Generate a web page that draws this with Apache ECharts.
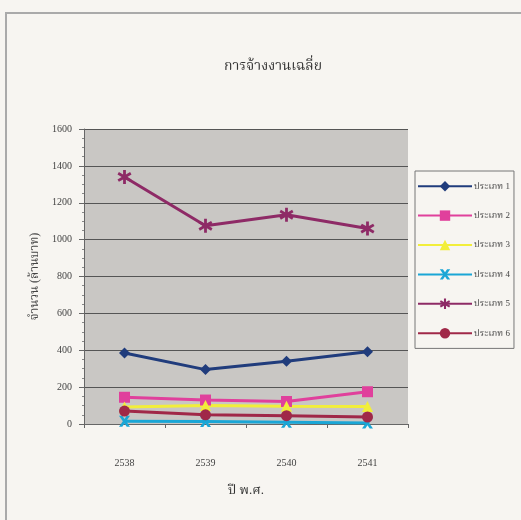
<!DOCTYPE html>
<html>
<head>
<meta charset="utf-8">
<script src="https://cdn.jsdelivr.net/npm/echarts@6/dist/echarts.min.js"></script>
<style>
  html, body { margin: 0; padding: 0; background: #f7f5f1; }
  #chart { width: 521px; height: 520px; }
</style>
</head>
<body>
<div id="chart"></div>
<script>
// ข้อมูลการจ้างงานเฉลี่ย
const years = ['2538', '2539', '2540', '2541'];
const seriesNames = ['ประเภท 1', 'ประเภท 2', 'ประเภท 3', 'ประเภท 4', 'ประเภท 5', 'ประเภท 6'];
const type1 = [385, 295, 340, 392];
const type2 = [145, 130, 122, 175];
const type3 = [92, 100, 96, 95];
const type4 = [15, 14, 10, 5];
const type5 = [1340, 1075, 1135, 1060];
const type6 = [70, 50, 45, 38];

const colors = ['#203c7c', '#e0409c', '#f2ee3a', '#1aa6d6', '#8e2a66', '#a02848'];
const symbols = [
    'diamond',
    'rect',
    'triangle',
    'path://M0,0 L3,0 L5,3 L7,0 L10,0 L6.5,5 L10,10 L7,10 L5,7 L3,10 L0,10 L3.5,5 Z',
    'path://M4,0 L6,0 L6,3.2 L9,1.5 L10,3.2 L7,5 L10,6.8 L9,8.5 L6,6.8 L6,10 L4,10 L4,6.8 L1,8.5 L0,6.8 L3,5 L0,3.2 L1,1.5 L4,3.2 Z',
    'circle'
];
const values = [type1, type2, type3, type4, type5, type6];

const font = '"Liberation Serif", "Noto Serif Thai", "Noto Sans Thai", serif';

const chart = echarts.init(document.getElementById('chart'));

const option = {
    backgroundColor: '#f7f5f1',
    animation: false,
    title: {
        text: 'การจ้างงานเฉลี่ย',
        left: 268,
        textAlign: 'center',
        top: 54,
        textStyle: { fontFamily: font, fontSize: 14, fontWeight: 'normal', color: '#333' }
    },
    graphic: [{
        type: 'rect',
        shape: { x: 6, y: 13, width: 560, height: 560 },
        style: { fill: 'none', stroke: '#aaa', lineWidth: 2 },
        silent: true
    }],
    legend: {
        orient: 'vertical',
        left: 415,
        top: 171,
        width: 103,
        itemWidth: 54,
        itemHeight: 13,
        itemGap: 19,
        padding: [10, 4, 10, 2],
        borderColor: '#777',
        borderWidth: 1,
        backgroundColor: '#f7f5f1',
        data: seriesNames,
        textStyle: { fontFamily: font, fontSize: 9, color: '#444', padding: [0, 0, 0, -3] }
    },
    grid: { left: 84, right: 113, top: 129, bottom: 96 },
    xAxis: {
        type: 'category',
        data: years,
        name: 'ปี พ.ศ.',
        nameLocation: 'middle',
        nameGap: 60,
        nameTextStyle: { fontFamily: font, fontSize: 13, color: '#333' },
        axisLine: { lineStyle: { color: '#666' } },
        axisTick: { show: true, interval: 0, length: 4, lineStyle: { color: '#666' } },
        axisLabel: { fontFamily: font, fontSize: 10, color: '#444', margin: 34 }
    },
    yAxis: {
        type: 'value',
        min: 0,
        max: 1600,
        interval: 200,
        name: 'จำนวน (ล้านบาท)',
        nameLocation: 'middle',
        nameGap: 40,
        nameTextStyle: { fontFamily: font, fontSize: 12, color: '#444' },
        axisLine: { show: true, lineStyle: { color: '#666' } },
        axisTick: { show: true, length: 5, lineStyle: { color: '#666' } },
        minorTick: { show: true, splitNumber: 4, length: 2, lineStyle: { color: '#888' } },
        axisLabel: { fontFamily: font, fontSize: 10, color: '#444', margin: 12, formatter: v => String(v) },
        splitLine: { show: true, lineStyle: { color: '#555', width: 1 } },
        splitArea: { show: true, areaStyle: { color: ['#c9c7c4', '#c9c7c4'] } }
    },
    series: seriesNames.map((name, i) => ({
        name: name,
        type: 'line',
        data: values[i],
        symbol: symbols[i],
        symbolSize: i === 4 ? 14 : 11,
        color: colors[i],
        lineStyle: { width: 3, color: colors[i] },
        itemStyle: { color: colors[i] }
    }))
};

chart.setOption(option);
</script>
</body>
</html>
